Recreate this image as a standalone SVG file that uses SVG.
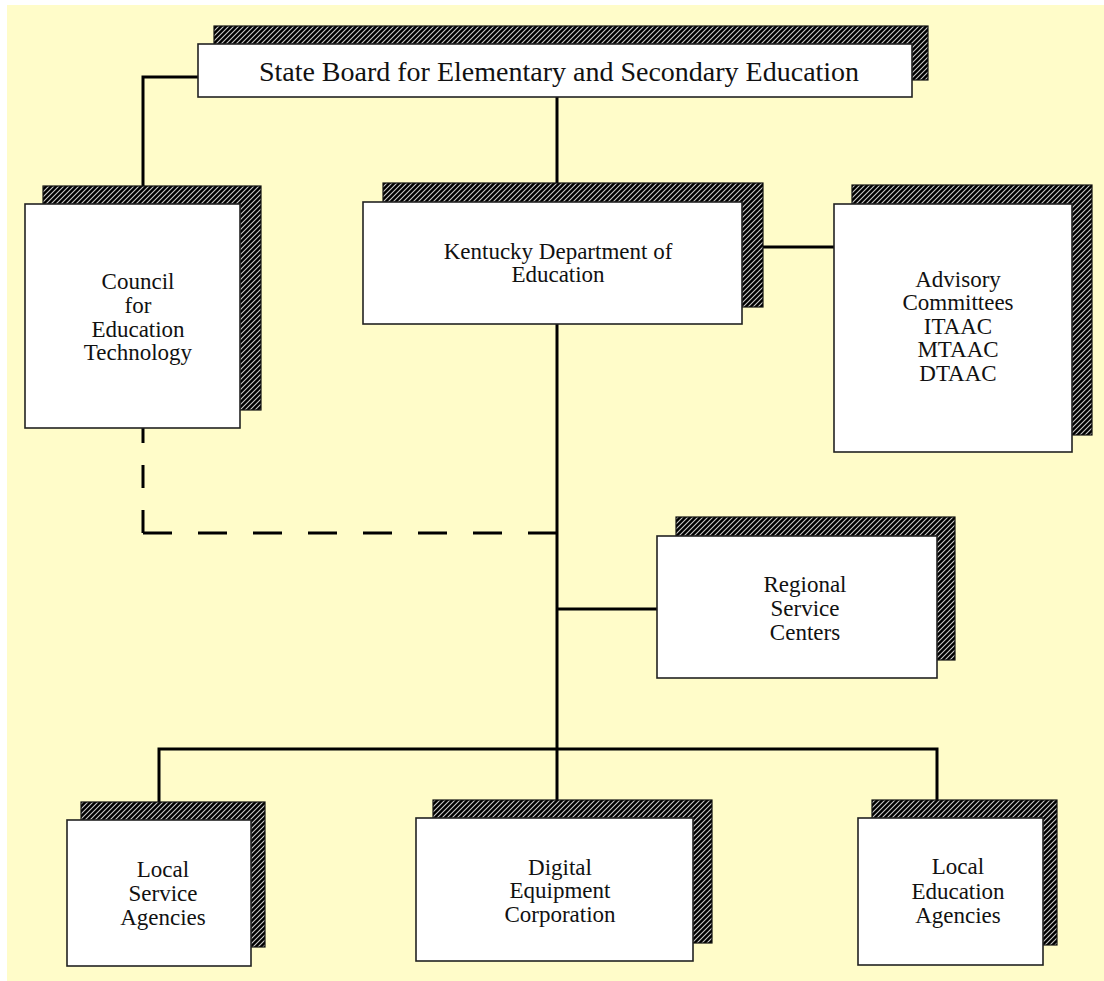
<svg xmlns="http://www.w3.org/2000/svg" width="1104" height="981" viewBox="0 0 1104 981">
<defs>
<pattern id="hatch" patternUnits="userSpaceOnUse" width="5" height="5">
<rect width="5" height="5" fill="#000"/>
<path d="M-1,6 L6,-1 M-1,1 L1,-1 M4,6 L6,4" stroke="#c8c8c8" stroke-width="1.1"/>
</pattern>
</defs>
<style>
.shadow{fill:url(#hatch);stroke:#111;stroke-width:1.2}
.box{fill:#fff;stroke:#222;stroke-width:1.6}
.t{font-family:"Liberation Serif","Times New Roman",serif;font-size:23px;fill:#111;text-anchor:middle}
.title{font-size:28px}
.line{fill:none;stroke:#000;stroke-width:3}
.dash{fill:none;stroke:#000;stroke-width:3}
</style>
<rect x="7" y="5" width="1097" height="976" fill="#fffcc9"/>
<g id="connectors">
<path class="line" d="M198,77 H143 V186"/>
<path class="line" d="M557,97 V183"/>
<path class="line" d="M557,324 V749"/>
<path class="line" d="M763,247 H834"/>
<path class="line" d="M557,609 H657"/>
<path class="line" d="M159,802 V749 H937 V800"/>
<path class="line" d="M557,749 V800"/>
<path class="dash" d="M143,428 V533" stroke-dasharray="23 22" stroke-dashoffset="8"/>
<path class="dash" d="M557,533 H141.5" stroke-dasharray="29 26"/>
</g>
<g id="state-board">
<rect class="shadow" x="214" y="26" width="714" height="54"/>
<rect class="box" x="198" y="44" width="714" height="53"/>
<text class="t title" x="559" y="81">State Board for Elementary and Secondary Education</text>
</g>
<g id="council">
<rect class="shadow" x="43" y="186" width="218" height="224"/>
<rect class="box" x="25" y="204" width="215" height="224"/>
<text class="t" x="138" y="289">Council</text>
<text class="t" x="138" y="313">for</text>
<text class="t" x="138" y="337">Education</text>
<text class="t" x="138" y="360">Technology</text>
</g>
<g id="kde">
<rect class="shadow" x="383" y="183" width="380" height="124"/>
<rect class="box" x="363" y="202" width="379" height="122"/>
<text class="t" x="558" y="259">Kentucky Department of</text>
<text class="t" x="558" y="282">Education</text>
</g>
<g id="advisory">
<rect class="shadow" x="852" y="185" width="240" height="250"/>
<rect class="box" x="834" y="204" width="238" height="248"/>
<text class="t" x="958" y="287">Advisory</text>
<text class="t" x="958" y="310">Committees</text>
<text class="t" x="958" y="334">ITAAC</text>
<text class="t" x="958" y="357">MTAAC</text>
<text class="t" x="958" y="381">DTAAC</text>
</g>
<g id="regional">
<rect class="shadow" x="676" y="517" width="279" height="143"/>
<rect class="box" x="657" y="536" width="280" height="142"/>
<text class="t" x="805" y="592">Regional</text>
<text class="t" x="805" y="616">Service</text>
<text class="t" x="805" y="640">Centers</text>
</g>
<g id="local-service">
<rect class="shadow" x="81" y="802" width="184" height="145"/>
<rect class="box" x="67" y="820" width="184" height="146"/>
<text class="t" x="163" y="877">Local</text>
<text class="t" x="163" y="901">Service</text>
<text class="t" x="163" y="925">Agencies</text>
</g>
<g id="digital">
<rect class="shadow" x="433" y="800" width="279" height="143"/>
<rect class="box" x="416" y="818" width="277" height="143"/>
<text class="t" x="560" y="875">Digital</text>
<text class="t" x="560" y="898">Equipment</text>
<text class="t" x="560" y="922">Corporation</text>
</g>
<g id="local-education">
<rect class="shadow" x="872" y="800" width="185" height="145"/>
<rect class="box" x="858" y="818" width="185" height="147"/>
<text class="t" x="958" y="874">Local</text>
<text class="t" x="958" y="899">Education</text>
<text class="t" x="958" y="923">Agencies</text>
</g>
</svg>
